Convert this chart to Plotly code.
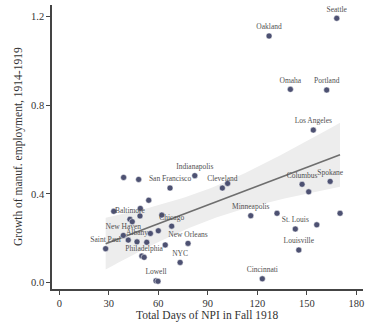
import numpy as np
import plotly.graph_objects as go

cities = ["Seattle", "Oakland", "Omaha", "Portland", "Los Angeles", "Indianapolis",
          "Cleveland", "", "Columbus", "", "Spokane", "Minneapolis", "", "",
          "St. Louis", "", "Louisville", "Cincinnati", "New Orleans", "NYC",
          "", "", "San Francisco", "", "", "", "", "Baltimore", "", "",
          "Chicago", "", "", "New Haven", "", "Albany", "", "Saint Paul", "",
          "", "Philadelphia", "Lowell", ""]
npi_days = [168.1, 127.1, 140.0, 162.0, 153.9, 82.1,
            98.8, 102.0, 147.1, 151.1, 164.1, 116.0, 131.9, 170.1,
            143.0, 156.0, 145.1, 123.0, 78.0, 73.2,
            39.0, 48.1, 67.1, 54.2, 33.0, 49.1, 48.9, 42.8, 44.2, 62.1,
            68.1, 60.0, 55.2, 38.8, 41.8, 47.1, 53.0, 28.1, 64.2,
            50.0, 51.4, 58.6, 59.8]
growth = [1.193, 1.113, 0.872, 0.869, 0.688, 0.482,
          0.426, 0.447, 0.443, 0.409, 0.456, 0.301, 0.312, 0.312,
          0.241, 0.260, 0.146, 0.016, 0.176, 0.090,
          0.474, 0.465, 0.426, 0.371, 0.321, 0.334, 0.300, 0.285, 0.274, 0.304,
          0.254, 0.233, 0.221, 0.212, 0.191, 0.183, 0.181, 0.152, 0.169,
          0.119, 0.113, 0.007, 0.005]

x_ticks = [0, 30, 60, 90, 120, 150, 180]
y_ticks = [0.0, 0.4, 0.8, 1.2]
y_tick_labels = ["0.0", "0.4", "0.8", "1.2"]
x_title = "Total Days of NPI in Fall 1918"
y_title = "Growth of manuf. employment, 1914-1919"

x = np.array(npi_days)
y = np.array(growth)
n = len(x)
b1, b0 = np.polyfit(x, y, 1)
xs = np.linspace(x.min(), x.max(), 60)
fit = b0 + b1 * xs
resid = y - (b0 + b1 * x)
s = np.sqrt(np.sum(resid ** 2) / (n - 2))
sxx = np.sum((x - x.mean()) ** 2)
se = s * np.sqrt(1 / n + (xs - x.mean()) ** 2 / sxx)
tcrit = 2.017
lo = fit - tcrit * se
hi = fit + tcrit * se

fig = go.Figure()
fig.add_trace(go.Scatter(x=np.concatenate([xs, xs[::-1]]), y=np.concatenate([hi, lo[::-1]]),
                         fill="toself", fillcolor="#ededed", line=dict(width=0),
                         hoverinfo="skip", showlegend=False))
fig.add_trace(go.Scatter(x=xs, y=fit, mode="lines", line=dict(color="#6e6e6e", width=1.6),
                         showlegend=False))
fig.add_trace(go.Scatter(x=npi_days, y=growth, mode="markers+text", text=cities,
                         textposition="top center",
                         textfont=dict(family="Liberation Serif", size=7.5, color="#505050"),
                         marker=dict(color="#4d5172", size=6, line=dict(width=0.5, color="#ffffff")),
                         cliponaxis=False, showlegend=False))

fig.update_layout(
    width=366, height=325,
    margin=dict(l=52, r=3, t=5, b=36, autoexpand=False),
    paper_bgcolor="white", plot_bgcolor="white",
    font=dict(family="Liberation Serif", color="#333333"),
    xaxis=dict(range=[-4.4, 184], tickvals=x_ticks, showgrid=False, zeroline=False,
               showline=True, linecolor="#444444", linewidth=1.5, automargin=False,
               ticks="outside", ticklen=4, tickcolor="#444444", tickwidth=1,
               tickfont=dict(size=10.5, color="#333333")),
    yaxis=dict(range=[-0.03, 1.253], tickvals=y_ticks, ticktext=y_tick_labels, showgrid=False,
               zeroline=False, showline=True, linecolor="#444444", linewidth=1.5, automargin=False,
               ticks="outside", ticklen=4, tickcolor="#444444", tickwidth=1,
               tickfont=dict(size=10.5, color="#333333")),
    annotations=[
        dict(text=x_title, xref="paper", yref="paper", x=0.5, y=0.0, yshift=-26,
             showarrow=False, font=dict(size=11.5, color="#333333"), yanchor="middle"),
        dict(text=y_title, xref="paper", yref="paper", x=0.0, xshift=-34, y=0.5,
             showarrow=False, textangle=-90, font=dict(size=11.5, color="#333333"),
             xanchor="center", yanchor="middle"),
    ],
)

fig.write_html("out.html", config={"displayModeBar": False},
               post_script="document.body.style.margin='0';document.body.style.overflow='hidden';")
